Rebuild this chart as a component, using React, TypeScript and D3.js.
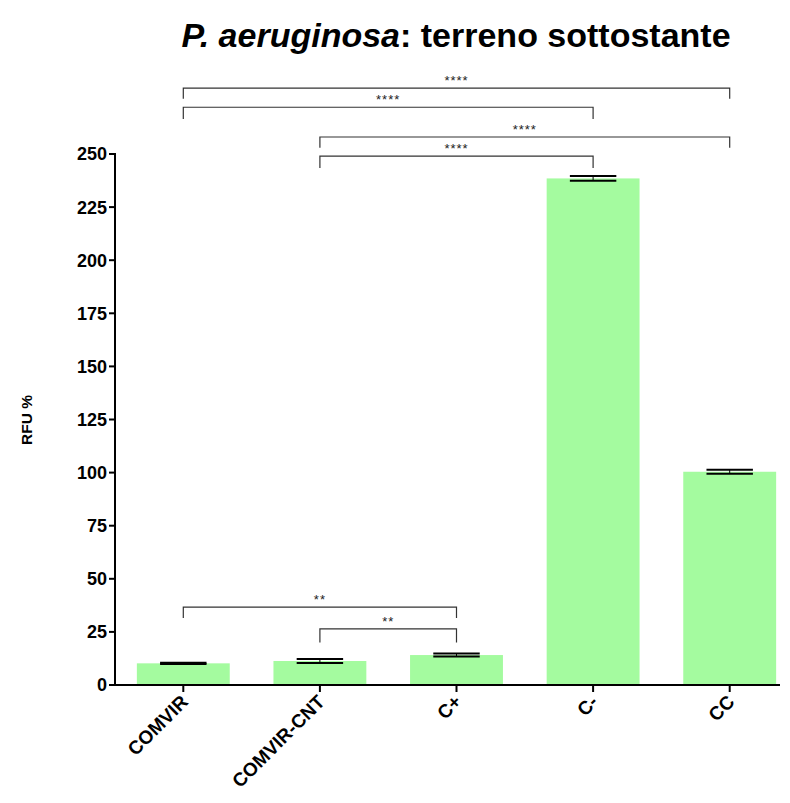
import React from "react";
import * as d3 from "d3";

const categories = ["COMVIR", "COMVIR-CNT", "C+", "C-", "CC"];
const means = [10.2, 11.3, 14.1, 238.5, 100.4];
const errors = [0.3, 0.9, 0.7, 1.1, 0.9];
const yTicks = [0, 25, 50, 75, 100, 125, 150, 175, 200, 225, 250];

const bracketFrom = ["COMVIR", "COMVIR", "COMVIR-CNT", "COMVIR-CNT", "COMVIR", "COMVIR-CNT"];
const bracketTo = ["CC", "C-", "CC", "C-", "C+", "C+"];
const bracketLevel = [281, 272, 258, 249, 36.7, 26.4];
const bracketDrop = [276, 266.5, 253, 243.4, 31.5, 20];
const bracketLabel = ["****", "****", "****", "****", "**", "**"];

const W = 790;
const H = 803;
const FONT = "'Liberation Sans', Arial, sans-serif";

export default function App() {
  const x = d3.scaleBand<string>().domain(categories).range([115, 798]).paddingInner(0.32).paddingOuter(0.16);
  const y = d3.scaleLinear().domain([0, 250]).range([685, 154]);
  const bw = x.bandwidth();
  const cx = (c: string) => (x(c) as number) + bw / 2;

  return (
    <svg width={W} height={H} style={{ position: "absolute", left: 0, top: 0, background: "#fff" }} fontFamily={FONT}>
      <rect x={0} y={0} width={W} height={H} fill="#fff" />
      <text x={456} y={47} textAnchor="middle" fontSize={34} fontWeight="bold">
        <tspan fontStyle="italic">P. aeruginosa</tspan>
        <tspan>: terreno sottostante</tspan>
      </text>
      <text transform={`translate(32,420) rotate(-90)`} textAnchor="middle" fontSize={15.5} fontWeight="bold">RFU %</text>

      {categories.map((c, i) => (
        <rect key={c} x={x(c)} y={y(means[i])} width={bw} height={y(0) - y(means[i])} fill="#a4fb9f" />
      ))}
      {categories.map((c, i) => {
        const xc = cx(c);
        const hw = bw / 4;
        return (
          <g key={"e" + c} stroke="#000">
            <line x1={xc} x2={xc} y1={y(means[i] + errors[i])} y2={y(means[i] - errors[i])} strokeWidth={1} />
            <line x1={xc - hw} x2={xc + hw} y1={y(means[i] + errors[i])} y2={y(means[i] + errors[i])} strokeWidth={2} />
            <line x1={xc - hw} x2={xc + hw} y1={y(means[i] - errors[i])} y2={y(means[i] - errors[i])} strokeWidth={2} />
          </g>
        );
      })}

      {/* y axis */}
      <line x1={115} x2={115} y1={y(250) - 1} y2={y(0) + 1} stroke="#000" strokeWidth={2} />
      {yTicks.map((t) => (
        <g key={t}>
          <line x1={109} x2={115} y1={y(t)} y2={y(t)} stroke="#000" strokeWidth={2} />
          <text x={107} y={y(t)} dy="0.36em" textAnchor="end" fontSize={18} fontWeight="bold">{t}</text>
        </g>
      ))}
      {/* x axis */}
      <line x1={114} x2={780} y1={y(0)} y2={y(0)} stroke="#000" strokeWidth={2} />
      {categories.map((c) => (
        <g key={"t" + c}>
          <line x1={cx(c)} x2={cx(c)} y1={y(0)} y2={y(0) + 7} stroke="#000" strokeWidth={2} />
          <text transform={`translate(${cx(c) + 6},${y(0) + 18}) rotate(-45)`} textAnchor="end" fontSize={19} fontWeight="bold">{c}</text>
        </g>
      ))}

      {bracketFrom.map((f, i) => {
        const x1 = cx(f);
        const x2 = cx(bracketTo[i]);
        const yl = y(bracketLevel[i]);
        const yd = y(bracketDrop[i]);
        return (
          <g key={"b" + i}>
            <path d={`M${x1},${yd}V${yl}H${x2}V${yd}`} fill="none" stroke="#333" strokeWidth={1.2} />
            <text x={(x1 + x2) / 2} y={yl - 3} textAnchor="middle" fontSize={13} letterSpacing={1} fill="#222">{bracketLabel[i]}</text>
          </g>
        );
      })}
    </svg>
  );
}
